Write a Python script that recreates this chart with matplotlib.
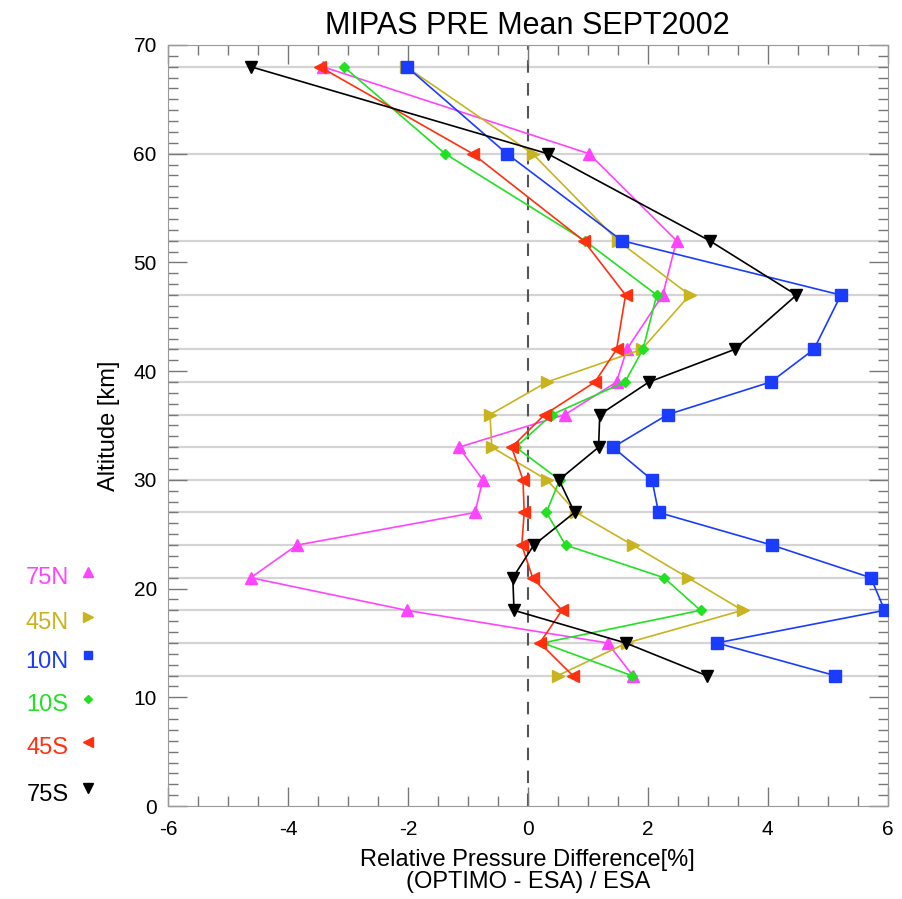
import numpy as np
import matplotlib
matplotlib.use("Agg")
import matplotlib.pyplot as plt
from matplotlib.ticker import MultipleLocator

plt.rcParams["font.family"] = ["Liberation Sans", "DejaVu Sans"]
plt.rcParams["axes.unicode_minus"] = False

# altitude levels [km]
altitude = [68, 60, 52, 47, 42, 39, 36, 33, 30, 27, 24, 21, 18, 15, 12]

# relative pressure difference [%] per latitude band
d_75n = [-3.42, 1.02, 2.48, 2.25, 1.65, 1.48, 0.62, -1.15, -0.75, -0.88, -3.85, -4.62, -2.02, 1.33, 1.75]
d_45n = [-2.03, 0.08, 1.50, 2.70, 1.90, 0.32, -0.63, -0.60, 0.32, 0.81, 1.75, 2.67, 3.58, 1.65, 0.50]
d_10n = [-2.02, -0.35, 1.57, 5.22, 4.77, 4.05, 2.33, 1.42, 2.07, 2.18, 4.07, 5.72, 5.95, 3.15, 5.12]
d_10s = [-3.07, -1.38, 0.95, 2.15, 1.92, 1.62, 0.40, -0.20, 0.53, 0.31, 0.63, 2.27, 2.88, 0.25, 1.73]
d_45s = [-3.47, -0.92, 0.93, 1.63, 1.48, 1.12, 0.28, -0.27, -0.08, -0.06, -0.10, 0.08, 0.57, 0.20, 0.75]
d_75s = [-4.62, 0.33, 3.03, 4.48, 3.45, 2.02, 1.20, 1.18, 0.52, 0.78, 0.10, -0.25, -0.23, 1.63, 2.98]

labels = ["75N", "45N", "10N", "10S", "45S", "75S"]
series = [d_75n, d_45n, d_10n, d_10s, d_45s, d_75s]
colors = ["#ff44ff", "#c8b41e", "#1a3cff", "#22e022", "#ff3010", "#000000"]
markers = ["^", ">", "s", "D", "<", "v"]
msizes = [9, 9, 8, 5, 9, 9]

fig = plt.figure(figsize=(9.03, 8.99), dpi=100)
ax = fig.add_axes([0.186, 0.1034, 0.797, 0.8466])

# horizontal grid at each altitude level
for a in altitude:
    ax.axhline(a, color="#d4d4d4", lw=1.6, zorder=0)
ax.axvline(0, color="#555555", lw=1.5, ls=(0, (6, 5)), zorder=1)

for lab, d, c, m, ms in zip(labels, series, colors, markers, msizes):
    ax.plot(d, altitude, color=c, lw=1.2, marker=m, ms=ms, mec=c, mfc=c, zorder=3)

ax.set_xlim(-6, 6)
ax.set_ylim(0, 70)
ax.xaxis.set_major_locator(MultipleLocator(2))
ax.xaxis.set_minor_locator(MultipleLocator(0.5))
ax.yaxis.set_major_locator(MultipleLocator(10))
ax.yaxis.set_minor_locator(MultipleLocator(1))
ax.tick_params(which="both", direction="in", top=True, right=True, colors="#777777",
               labelcolor="black", labelsize=15)
ax.tick_params(which="major", length=14, width=1)
ax.tick_params(which="minor", length=7, width=1)
ax.tick_params(axis="x", which="both", pad=10)
ax.tick_params(axis="y", which="both", pad=8)
for sp in ax.spines.values():
    sp.set_color("#999999")

ax.set_title("MIPAS PRE Mean SEPT2002", fontsize=22, pad=8)
ax.set_xlabel("Relative Pressure Difference[%]\n(OPTIMO - ESA) / ESA", fontsize=17, labelpad=7,
              linespacing=1.0)
ax.set_ylabel("Altitude [km]", fontsize=17, labelpad=10)

# manual legend on the left
leg_y = [0.357, 0.307, 0.264, 0.216, 0.168, 0.116]
for lab, c, m, ms, yy in zip(labels, colors, markers, msizes, leg_y):
    fig.text(0.076, yy, lab, color=c, fontsize=17, ha="right", va="center")
    fig.lines.append(plt.Line2D([0.097], [yy + 0.007], transform=fig.transFigure,
                                marker=m, ms=ms * 0.8, color=c, ls="none"))

fig.savefig("out.png", dpi=100)
